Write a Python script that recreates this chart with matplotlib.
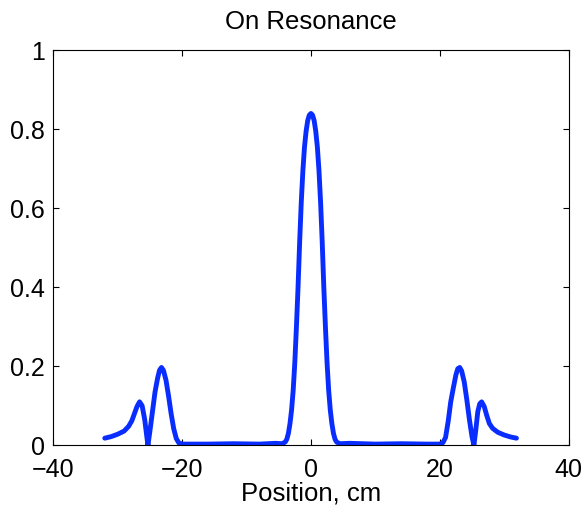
import matplotlib
matplotlib.use("Agg")
import matplotlib.pyplot as plt
from matplotlib.ticker import FuncFormatter

# values (position in cm, amplitude)
position = [-32.0, -31.0, -30.0, -29.0, -28.3, -27.8, -27.4, -27.0, -26.6, -26.2,
            -25.8, -25.5, -25.3, -25.0, -24.6, -24.2, -23.8, -23.5, -23.2, -22.9,
            -22.5, -22.1, -21.7, -21.3, -20.9, -20.5, -20.0, -16.0, -12.0, -8.0,
            -5.5, -4.5, -4.0, -3.75, -3.5, -3.25, -3.0, -2.75, -2.5, -2.25,
            -2.0, -1.75, -1.5, -1.25, -1.0, -0.75, -0.5, -0.25, 0.0,
            0.25, 0.5, 0.75, 1.0, 1.25, 1.5, 1.75, 2.0, 2.25, 2.5,
            2.75, 3.0, 3.25, 3.5, 3.75, 4.0, 4.5, 6.0, 10.0, 14.0,
            18.0, 20.0, 20.5, 20.9, 21.3, 21.7, 22.1, 22.5, 22.8, 23.1,
            23.4, 23.8, 24.2, 24.6, 25.0, 25.3, 25.6, 25.9, 26.2, 26.5,
            26.9, 27.3, 27.7, 28.2, 29.0, 30.0, 31.0, 31.9]
signal = [0.018, 0.022, 0.028, 0.036, 0.048, 0.062, 0.080, 0.098, 0.110, 0.100,
          0.065, 0.025, 0.0, 0.035, 0.085, 0.135, 0.170, 0.190, 0.197, 0.190,
          0.165, 0.125, 0.080, 0.042, 0.017, 0.006, 0.003, 0.003, 0.004, 0.003,
          0.005, 0.004, 0.008, 0.015, 0.030, 0.055, 0.090, 0.140, 0.210, 0.300,
          0.400, 0.515, 0.615, 0.695, 0.755, 0.795, 0.822, 0.836, 0.840,
          0.836, 0.822, 0.795, 0.755, 0.695, 0.615, 0.515, 0.400, 0.300, 0.210,
          0.140, 0.090, 0.055, 0.030, 0.015, 0.008, 0.004, 0.005, 0.003, 0.004,
          0.003, 0.003, 0.007, 0.020, 0.060, 0.110, 0.145, 0.178, 0.194, 0.197,
          0.188, 0.160, 0.115, 0.065, 0.022, 0.0, 0.040, 0.085, 0.105, 0.110,
          0.098, 0.075, 0.055, 0.043, 0.033, 0.026, 0.021, 0.018]

xticks = [-40, -20, 0, 20, 40]
yticks = [0, 0.2, 0.4, 0.6, 0.8, 1]

plt.rcParams['font.family'] = ['Liberation Sans', 'DejaVu Sans']

fig = plt.figure(figsize=(5.85, 5.13), dpi=100)
ax = fig.add_axes([0.091, 0.132, 0.881, 0.770])

ax.plot(position, signal, color='#0a2dff', lw=3.5,
        solid_joinstyle='round', solid_capstyle='round')

ax.set_xlim(-40, 40)
ax.set_ylim(0, 1)
ax.set_xticks(xticks)
ax.set_yticks(yticks)
ax.yaxis.set_major_formatter(FuncFormatter(lambda v, p: f"{v:g}"))
ax.tick_params(direction='in', top=True, right=True, labelsize=18,
               length=4.3, width=0.8)
ax.tick_params(axis='x', pad=9)
ax.tick_params(axis='y', pad=6)
for s in ax.spines.values():
    s.set_linewidth(0.8)

ax.set_xlabel("Position, cm", fontsize=18.5, labelpad=0)
ax.set_title("On Resonance", fontsize=18.5, pad=15)

fig.savefig("out.png", dpi=100)
